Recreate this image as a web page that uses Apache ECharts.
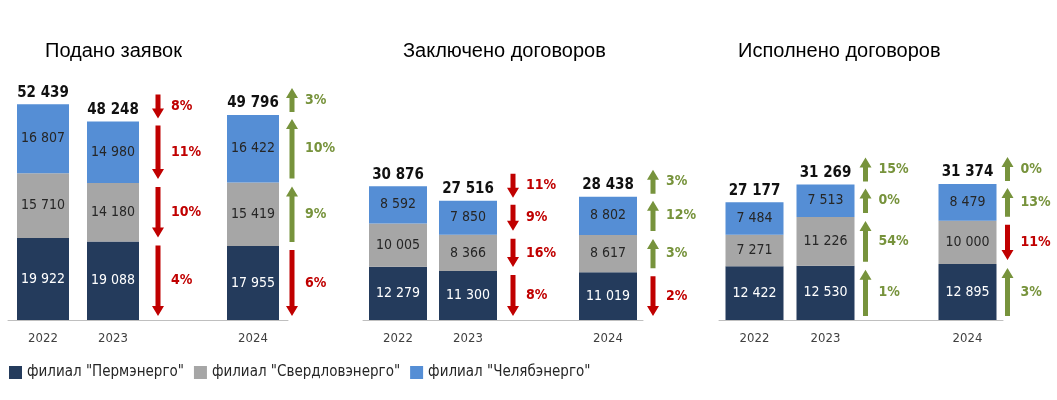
<!DOCTYPE html>
<html>
<head>
<meta charset="utf-8">
<script src="https://cdn.jsdelivr.net/npm/echarts@6/dist/echarts.min.js"></script>
<style>html,body{margin:0;background:#fff}#main{width:1057px;height:400px}</style>
</head>
<body>
<div id="main"></div>
<script>
var categories = ['2022', '2023', '', '2024'];
var seriesNames = ['филиал "Пермэнерго"', 'филиал "Свердловэнерго"', 'филиал "Челябэнерго"'];
var titles = ['Подано заявок', 'Заключено договоров', 'Исполнено договоров'];

// per panel: [perm, sverdl, chelyab] over categories (gap = null)
var perm1 = [19922, 19088, null, 17955];
var sverd1 = [15710, 14180, null, 15419];
var chel1 = [16807, 14980, null, 16422];
var total1 = [52439, 48248, null, 49796];

var perm2 = [12279, 11300, null, 11019];
var sverd2 = [10005, 8366, null, 8617];
var chel2 = [8592, 7850, null, 8802];
var total2 = [30876, 27516, null, 28438];

var perm3 = [12422, 12530, null, 12895];
var sverd3 = [7271, 11226, null, 10000];
var chel3 = [7484, 7513, null, 8479];
var total3 = [27177, 31269, null, 31374];

// changes for 2023 and 2024 columns: [perm, sverdl, chelyab, total], sign = direction
var change1_2023 = [-4, -10, -11, -8];
var change1_2024 = [-6, 9, 10, 3];
var change2_2023 = [-8, -16, -9, -11];
var change2_2024 = [-2, 3, 12, 3];
var change3_2023 = [1, 54, 0, 15];
var change3_2024 = [3, -11, 13, 0];

var colors = ['#243b5c', '#a6a6a6', '#558ed5'];
var FONT = '"DejaVu Sans Condensed", "Liberation Sans Narrow", Roboto, sans-serif';
var fmt = function (v) { return String(v).replace(/\B(?=(\d{3})+(?!\d))/g, ' '); };

var panels = [
  {perm: perm1, sverd: sverd1, chel: chel1, total: total1, ch: [change1_2023, change1_2024], left: 8, width: 280, top: 73, barW: 52, off: [45, 39]},
  {perm: perm2, sverd: sverd2, chel: chel2, total: total2, ch: [change2_2023, change2_2024], left: 363, width: 280, top: 60, barW: 58, off: [45, 45]},
  {perm: perm3, sverd: sverd3, chel: chel3, total: total3, ch: [change3_2023, change3_2024], left: 719, width: 284, top: 60, barW: 58, off: [40, 40]}
];

var grids = [], xAxes = [], yAxes = [], series = [], graphicTitles = [];
panels.forEach(function (p, i) {
  grids.push({left: p.left, width: p.width, top: p.top, bottom: 80});
  xAxes.push({type: 'category', gridIndex: i, data: categories,
    axisLine: {lineStyle: {color: '#bfbfbf'}}, axisTick: {lineStyle: {color: '#bfbfbf'}, length: 5},
    axisLabel: {color: '#404040', fontFamily: FONT, fontSize: 13, margin: 12}});
  yAxes.push({type: 'value', gridIndex: i, min: 0, max: 60000, show: false, splitLine: {show: false}});
  var segs = [p.perm, p.sverd, p.chel];
  segs.forEach(function (d, k) {
    series.push({name: seriesNames[k], type: 'bar', stack: 's' + i, xAxisIndex: i, yAxisIndex: i,
      data: d, barWidth: p.barW, itemStyle: {color: colors[k]},
      label: {show: true, color: k === 0 ? '#fff' : '#262626', fontFamily: FONT, fontSize: 14,
        formatter: function (q) { return fmt(q.value); }}});
  });
  series.push({type: 'bar', stack: 's' + i, xAxisIndex: i, yAxisIndex: i, barWidth: p.barW,
    data: p.total.map(function (v) { return v == null ? null : 0; }),
    label: {show: true, position: 'top', distance: 4, color: '#111', fontWeight: 'bold', fontFamily: FONT, fontSize: 15,
      formatter: function (q) { return fmt(p.total[q.dataIndex]); }}});
  // arrows
  var arrows = [];
  [[1, 0], [3, 1]].forEach(function (cc) {
    var ci = cc[0], chg = p.ch[cc[1]];
    var a = 0;
    segs.forEach(function (d, k) {
      arrows.push([ci, a, a + d[ci], chg[k], 0, p.off[cc[1]]]);
      a += d[ci];
    });
    arrows.push([ci, a, a, chg[3], 1, p.off[cc[1]]]);
  });
  series.push({type: 'custom', xAxisIndex: i, yAxisIndex: i, data: arrows, clip: false, z: 5,
    renderItem: function (params, api) {
      var c0 = api.coord([api.value(0), api.value(1)]);
      var c1 = api.coord([api.value(0), api.value(2)]);
      var x = c0[0] + api.value(5);
      var yb, yt;
      if (api.value(4) === 1) { yb = c0[1] - 3; yt = c0[1] - 27; }
      else { yb = c0[1] - 4; yt = c1[1] + 4; }
      var pct = api.value(3);
      var up = pct >= 0;
      var col = up ? '#77933c' : '#c00000';
      var hw = 6, sw = 2.5, hh = 10, pts;
      if (up) pts = [[x - sw, yb], [x - sw, yt + hh], [x - hw, yt + hh], [x, yt], [x + hw, yt + hh], [x + sw, yt + hh], [x + sw, yb]];
      else pts = [[x - sw, yt], [x - sw, yb - hh], [x - hw, yb - hh], [x, yb], [x + hw, yb - hh], [x + sw, yb - hh], [x + sw, yt]];
      return {type: 'group', children: [
        {type: 'polygon', shape: {points: pts}, style: {fill: col}},
        {type: 'text', style: {text: Math.abs(pct) + '%', x: x + 13, y: (yb + yt) / 2, verticalAlign: 'middle',
          fill: col, font: 'bold 14px ' + FONT}}
      ]};
    }});
});

var chart = echarts.init(document.getElementById('main'));
chart.setOption({
  animation: false,
  title: [
    {text: titles[0], left: 40, top: 36},
    {text: titles[1], left: 398, top: 36},
    {text: titles[2], left: 733, top: 36}
  ].map(function (t) { t.textStyle = {fontFamily: 'Liberation Sans, Arial, sans-serif', fontSize: 20, fontWeight: 'normal', color: '#000'}; return t; }),
  legend: {left: 4, top: 360, itemWidth: 13, itemHeight: 13, itemGap: 10, icon: 'rect',
    data: seriesNames, textStyle: {fontFamily: FONT, fontSize: 15, color: '#262626'}},
  grid: grids, xAxis: xAxes, yAxis: yAxes, series: series
});
</script>
</body>
</html>
